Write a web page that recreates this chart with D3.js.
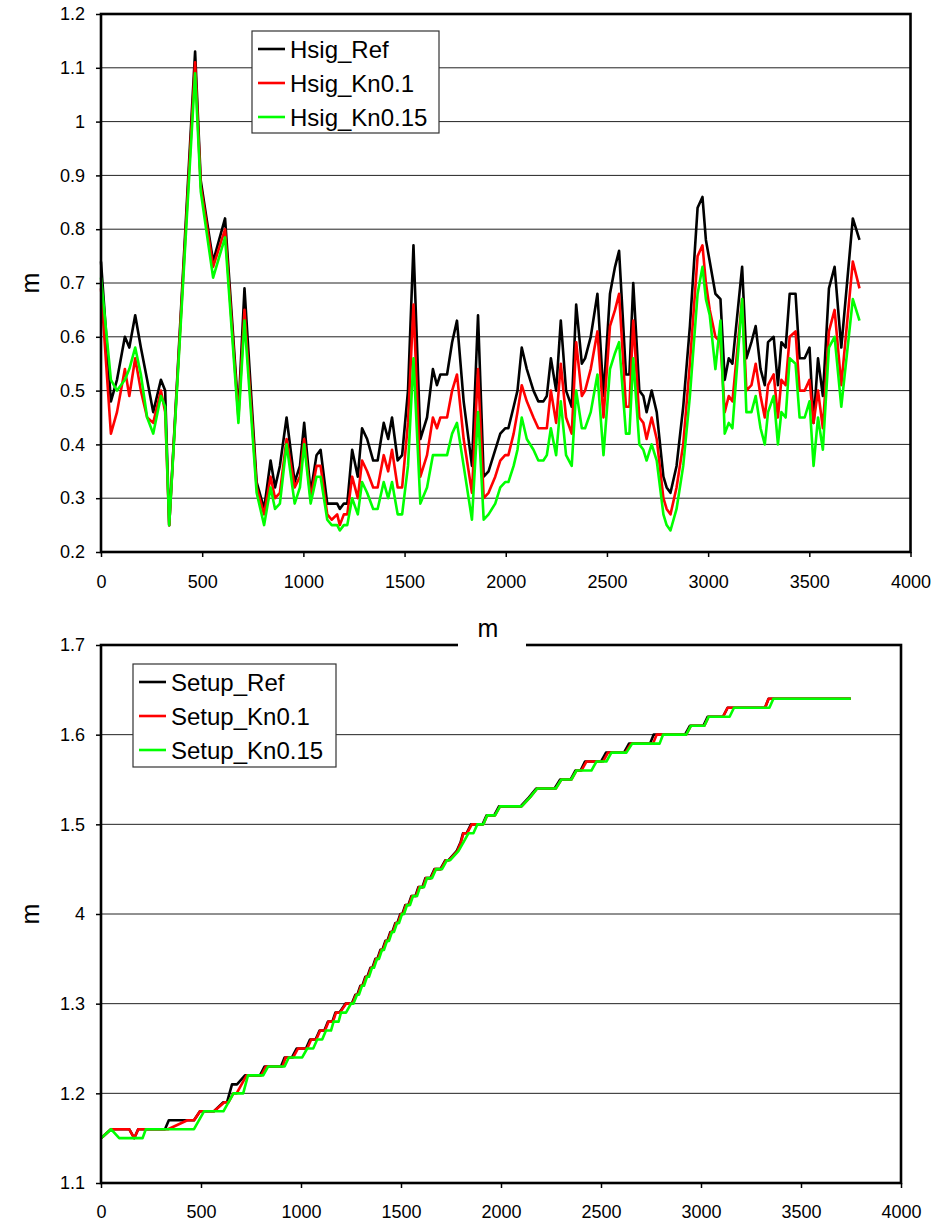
<!DOCTYPE html>
<html>
<head>
<meta charset="utf-8">
<script src="https://cdn.jsdelivr.net/npm/d3@7"></script>
<style>
body{margin:0;background:#fff;}
text{font-family:"Liberation Sans",Arial,sans-serif;fill:#000;}
</style>
</head>
<body>
<svg id="chart" width="937" height="1224"></svg>
<script>
// ---- top panel: significant wave height along the profile (m) ----
const hsigDist = [
  0, 49, 79, 118, 140, 169, 197, 228, 258, 296,
  317, 337, 465, 493, 554, 613, 679, 709, 769, 806,
  838, 860, 884, 917, 957, 983, 1004, 1036, 1065, 1085,
  1118, 1140, 1167, 1180, 1200, 1217, 1241, 1269, 1290, 1315,
  1345, 1367, 1397, 1419, 1438, 1466, 1488, 1517, 1544, 1578,
  1611, 1640, 1660, 1677, 1710, 1735, 1759, 1792, 1833, 1863,
  1891, 1915, 1948, 1973, 1997, 2013, 2039, 2058, 2079, 2104,
  2137, 2161, 2186, 2203, 2223, 2249, 2272, 2298, 2326, 2348,
  2376, 2392, 2420, 2453, 2483, 2515, 2540, 2560, 2594, 2611,
  2630, 2660, 2680, 2696, 2721, 2746, 2779, 2795, 2814, 2844,
  2877, 2910, 2948, 2972, 2989, 3008, 3036, 3061, 3082, 3102,
  3120, 3168, 3189, 3214, 3235, 3259, 3280, 3296, 3324, 3345,
  3362, 3383, 3403, 3432, 3452, 3477, 3501, 3521, 3543, 3567,
  3597, 3625, 3658, 3715, 3748
];
const hsigRef = [
  .74, .48, .52, .60, .58, .64, .58, .52, .46, .52,
  .50, .25, 1.13, .89, .74, .82, .46, .69, .33, .28,
  .37, .32, .36, .45, .33, .36, .44, .31, .38, .39,
  .29, .29, .29, .28, .29, .29, .39, .34, .43, .41,
  .37, .37, .44, .41, .45, .37, .38, .50, .77, .41,
  .45, .54, .51, .53, .53, .59, .63, .48, .36, .64,
  .34, .35, .39, .42, .43, .43, .47, .50, .58, .54,
  .50, .48, .48, .49, .56, .50, .63, .50, .47, .66,
  .55, .56, .60, .68, .49, .68, .73, .76, .53, .53,
  .70, .50, .49, .46, .50, .46, .34, .32, .31, .36,
  .47, .62, .84, .86, .78, .74, .68, .67, .52, .56,
  .55, .73, .56, .59, .62, .54, .51, .59, .60, .51,
  .59, .58, .68, .68, .56, .56, .58, .44, .56, .49,
  .69, .73, .58, .82, .78
];
const hsigKn01 = [
  .69, .42, .46, .54, .49, .56, .50, .45, .44, .50,
  .46, .25, 1.11, .88, .73, .80, .45, .65, .32, .27,
  .34, .30, .31, .41, .32, .34, .41, .30, .36, .36,
  .27, .26, .27, .25, .27, .27, .34, .30, .37, .35,
  .32, .32, .38, .35, .39, .32, .32, .44, .66, .34,
  .38, .45, .43, .45, .45, .50, .53, .41, .31, .54,
  .30, .31, .34, .37, .38, .38, .42, .46, .51, .48,
  .45, .43, .43, .43, .50, .44, .55, .45, .42, .59,
  .49, .50, .54, .61, .45, .62, .65, .68, .47, .47,
  .63, .45, .44, .41, .45, .41, .30, .28, .27, .32,
  .40, .55, .75, .77, .70, .65, .60, .59, .46, .49,
  .48, .67, .50, .51, .55, .49, .45, .51, .53, .45,
  .52, .51, .60, .61, .50, .50, .52, .44, .50, .43,
  .61, .65, .51, .74, .69
];
const hsigKn015 = [
  .71, .52, .50, .52, .54, .58, .53, .45, .42, .49,
  .47, .25, 1.09, .87, .71, .785, .44, .63, .31, .25,
  .32, .28, .29, .40, .29, .32, .40, .29, .34, .34,
  .26, .25, .25, .24, .25, .25, .30, .27, .33, .31,
  .28, .28, .33, .30, .33, .27, .27, .36, .56, .29,
  .32, .38, .38, .38, .38, .42, .44, .36, .26, .46,
  .26, .27, .29, .32, .33, .33, .36, .39, .45, .41,
  .39, .37, .37, .38, .43, .38, .48, .38, .36, .50,
  .43, .43, .46, .53, .38, .54, .57, .59, .42, .42,
  .56, .40, .39, .37, .40, .37, .27, .25, .24, .28,
  .36, .49, .68, .73, .67, .64, .54, .63, .42, .44,
  .43, .67, .46, .46, .49, .43, .40, .46, .49, .40,
  .46, .45, .56, .55, .45, .45, .48, .36, .45, .39,
  .58, .60, .47, .67, .63
];
const hsigNames = ["Hsig_Ref", "Hsig_Kn0.1", "Hsig_Kn0.15"];
const hsigYTicks = [0.2, 0.3, 0.4, 0.5, 0.6, 0.7, 0.8, 0.9, 1, 1.1, 1.2];
const hsigYLabels = ["0.2", "0.3", "0.4", "0.5", "0.6", "0.7", "0.8", "0.9", "1", "1.1", "1.2"];

// ---- bottom panel: wave setup (distance, level) ----
const setupRef = [
  [0,1.15],[50,1.16],[141,1.16],[166,1.15],[186,1.16],[320,1.16],[339,1.17],[432,1.17],[465,1.17],[495,1.18],
  [565,1.18],[612,1.19],[630,1.19],[655,1.21],[680,1.21],[720,1.22],[795,1.22],[818,1.23],[900,1.23],[918,1.24],
  [955,1.24],[978,1.25],[1025,1.25],[1045,1.26],[1073,1.26],[1093,1.27],[1117,1.27],[1135,1.28],[1157,1.28],[1172,1.29],
  [1192,1.29],[1222,1.30],[1254,1.30],[1272,1.31],[1282,1.31],[1297,1.32],[1307,1.32],[1322,1.33],[1332,1.33],[1347,1.34],
  [1357,1.34],[1372,1.35],[1382,1.35],[1397,1.36],[1407,1.36],[1422,1.37],[1432,1.37],[1447,1.38],[1457,1.38],[1472,1.39],
  [1482,1.39],[1497,1.40],[1507,1.40],[1522,1.41],[1537,1.41],[1552,1.42],[1572,1.42],[1587,1.43],[1607,1.43],[1622,1.44],
  [1647,1.44],[1667,1.45],[1697,1.45],[1722,1.46],[1738,1.46],[1778,1.47],[1798,1.48],[1810,1.49],[1828,1.49],[1850,1.50],
  [1908,1.50],[1928,1.51],[1966,1.51],[1990,1.52],[2098,1.52],[2140,1.53],[2176,1.54],[2268,1.54],[2296,1.55],[2348,1.55],
  [2372,1.56],[2398,1.56],[2420,1.57],[2500,1.57],[2525,1.58],[2615,1.58],[2640,1.59],[2745,1.59],[2763,1.60],[2920,1.60],
  [2945,1.61],[3012,1.61],[3033,1.62],[3110,1.62],[3133,1.63],[3320,1.63],[3338,1.64],[3749,1.64]
];
const setupKn01 = [
  [0,1.15],[50,1.16],[141,1.16],[166,1.15],[186,1.16],[335,1.16],[432,1.17],[465,1.17],[495,1.18],[565,1.18],
  [617,1.19],[637,1.19],[662,1.20],[678,1.20],[728,1.22],[801,1.22],[825,1.23],[908,1.23],[923,1.24],[961,1.24],
  [985,1.25],[1031,1.25],[1051,1.26],[1076,1.26],[1096,1.27],[1120,1.27],[1138,1.28],[1160,1.28],[1175,1.29],[1195,1.29],
  [1225,1.30],[1257,1.30],[1275,1.31],[1285,1.31],[1300,1.32],[1310,1.32],[1325,1.33],[1335,1.33],[1350,1.34],[1360,1.34],
  [1375,1.35],[1385,1.35],[1400,1.36],[1410,1.36],[1425,1.37],[1435,1.37],[1450,1.38],[1460,1.38],[1475,1.39],[1485,1.39],
  [1500,1.40],[1510,1.40],[1525,1.41],[1540,1.41],[1555,1.42],[1575,1.42],[1590,1.43],[1610,1.43],[1625,1.44],[1650,1.44],
  [1670,1.45],[1700,1.45],[1725,1.46],[1741,1.46],[1782,1.47],[1800,1.48],[1812,1.49],[1830,1.49],[1854,1.50],[1912,1.50],
  [1931,1.51],[1970,1.51],[1995,1.52],[2103,1.52],[2145,1.53],[2181,1.54],[2274,1.54],[2302,1.55],[2352,1.55],[2377,1.56],
  [2402,1.56],[2427,1.57],[2510,1.57],[2535,1.58],[2622,1.58],[2650,1.59],[2760,1.59],[2778,1.60],[2926,1.60],[2950,1.61],
  [3017,1.61],[3038,1.62],[3110,1.62],[3133,1.63],[3320,1.63],[3338,1.64],[3749,1.64]
];
const setupKn015 = [
  [0,1.15],[50,1.16],[91,1.15],[208,1.15],[224,1.16],[465,1.16],[515,1.18],[612,1.18],[662,1.20],[711,1.20],
  [735,1.22],[811,1.22],[836,1.23],[918,1.23],[939,1.24],[1006,1.24],[1031,1.25],[1061,1.25],[1081,1.26],[1106,1.26],
  [1125,1.27],[1150,1.27],[1163,1.28],[1188,1.28],[1200,1.29],[1225,1.29],[1250,1.30],[1262,1.30],[1280,1.31],[1290,1.31],
  [1305,1.32],[1315,1.32],[1330,1.33],[1340,1.33],[1355,1.34],[1365,1.34],[1380,1.35],[1390,1.35],[1405,1.36],[1415,1.36],
  [1430,1.37],[1440,1.37],[1455,1.38],[1465,1.38],[1480,1.39],[1490,1.39],[1505,1.40],[1515,1.40],[1530,1.41],[1545,1.41],
  [1560,1.42],[1580,1.42],[1595,1.43],[1615,1.43],[1630,1.44],[1655,1.44],[1675,1.45],[1705,1.45],[1730,1.46],[1746,1.46],
  [1787,1.47],[1812,1.48],[1837,1.49],[1862,1.49],[1882,1.50],[1912,1.50],[1931,1.51],[1970,1.51],[1995,1.52],[2103,1.52],
  [2145,1.53],[2181,1.54],[2274,1.54],[2302,1.55],[2352,1.55],[2377,1.56],[2452,1.56],[2477,1.57],[2527,1.57],[2552,1.58],
  [2627,1.58],[2656,1.59],[2793,1.59],[2810,1.60],[2926,1.60],[2950,1.61],[3017,1.61],[3038,1.62],[3143,1.62],[3165,1.63],
  [3342,1.63],[3362,1.64],[3749,1.64]
];
const setupNames = ["Setup_Ref", "Setup_Kn0.1", "Setup_Kn0.15"];
const setupYTicks = [1.1, 1.2, 1.3, 1.4, 1.5, 1.6, 1.7];
const setupYLabels = ["1.1", "1.2", "1.3", "4", "1.5", "1.6", "1.7"];

const xTicks = [0, 500, 1000, 1500, 2000, 2500, 3000, 3500, 4000];
const colors = ["#000000", "#ff0000", "#00ff00"];

const svg = d3.select("#chart");
svg.append("rect").attr("width", 937).attr("height", 1224).attr("fill", "#fff");

function drawPanel(p) {
  const g = svg.append("g");
  const x = d3.scaleLinear().domain([0, 4000]).range([p.left, p.right]);
  const y = d3.scaleLinear().domain([p.yTicks[0], p.yTicks[p.yTicks.length - 1]]).range([p.bottom, p.top]);

  // horizontal grid
  g.append("g").selectAll("line")
    .data(p.yTicks.slice(1, -1))
    .enter().append("line")
    .attr("x1", p.left).attr("x2", p.right)
    .attr("y1", d => y(d)).attr("y2", d => y(d))
    .attr("stroke", "#222").attr("stroke-width", 1);

  // series
  const line = d3.line().x(d => x(d[0])).y(d => y(d[1]));
  g.append("g").selectAll("path")
    .data(p.series)
    .enter().append("path")
    .attr("d", d => line(d.points))
    .attr("fill", "none")
    .attr("stroke", (d, i) => colors[i])
    .attr("stroke-width", 2.6)
    .attr("stroke-linejoin", "round");

  // frame
  g.append("rect")
    .attr("x", p.left).attr("y", p.top)
    .attr("width", p.right - p.left).attr("height", p.bottom - p.top)
    .attr("fill", "none").attr("stroke", "#000").attr("stroke-width", 2.6);

  // axes
  const xa = g.append("g").attr("transform", "translate(0," + p.bottom + ")")
    .call(d3.axisBottom(x).tickValues(xTicks).tickFormat(d3.format("d"))
      .tickSize(5).tickSizeOuter(0).tickPadding(p.xPad));
  const ya = g.append("g").attr("transform", "translate(" + p.left + ",0)")
    .call(d3.axisLeft(y).tickValues(p.yTicks).tickFormat((d, i) => p.yLabels[i])
      .tickSize(5).tickSizeOuter(0).tickPadding(11));
  [xa, ya].forEach(a => {
    a.select(".domain").remove();
    a.attr("font-family", null).attr("font-size", null);
    a.selectAll("line").attr("stroke", "#000").attr("stroke-width", 1.5);
    a.selectAll("text").attr("font-size", 18).attr("fill", "#000");
  });

  // y title
  g.append("text")
    .attr("transform", "translate(30," + ((p.top + p.bottom) / 2) + ") rotate(-90)")
    .attr("text-anchor", "middle").attr("dy", "0.35em")
    .attr("font-size", 25).text("m");

  // legend
  const L = p.legend;
  const lg = g.append("g");
  lg.append("rect").attr("x", L.x).attr("y", L.y).attr("width", L.w).attr("height", L.h)
    .attr("fill", "#fff").attr("stroke", "#333").attr("stroke-width", 1.2);
  p.names.forEach((name, i) => {
    const cy = L.y + L.first + i * L.step;
    lg.append("line").attr("x1", L.x + 6).attr("x2", L.x + 33)
      .attr("y1", cy).attr("y2", cy)
      .attr("stroke", colors[i]).attr("stroke-width", 2.6);
    lg.append("text").attr("x", L.x + 38).attr("y", cy).attr("dy", "0.36em")
      .attr("font-size", 24).text(name);
  });
  return g;
}

// bottom panel first so the upper panel's x title can sit over its frame
drawPanel({
  left: 101, right: 901, top: 645, bottom: 1183, xPad: 17,
  yTicks: setupYTicks, yLabels: setupYLabels,
  series: [setupRef, setupKn01, setupKn015].map(s => ({points: s})),
  names: setupNames,
  legend: {x: 133, y: 664, w: 203, h: 103, first: 18, step: 34}
});

drawPanel({
  left: 101, right: 910.5, top: 14, bottom: 552, xPad: 18,
  yTicks: hsigYTicks, yLabels: hsigYLabels,
  series: [hsigRef, hsigKn01, hsigKn015].map(v => ({points: hsigDist.map((d, i) => [d, v[i]])})),
  names: hsigNames,
  legend: {x: 252, y: 31, w: 187, h: 102, first: 18, step: 34}
});

// x title of the upper panel, with its white background
svg.append("rect").attr("x", 458).attr("y", 612).attr("width", 68).attr("height", 35).attr("fill", "#fff");
svg.append("text").attr("x", 488).attr("y", 637).attr("text-anchor", "middle")
  .attr("font-size", 25).text("m");
</script>
</body>
</html>
